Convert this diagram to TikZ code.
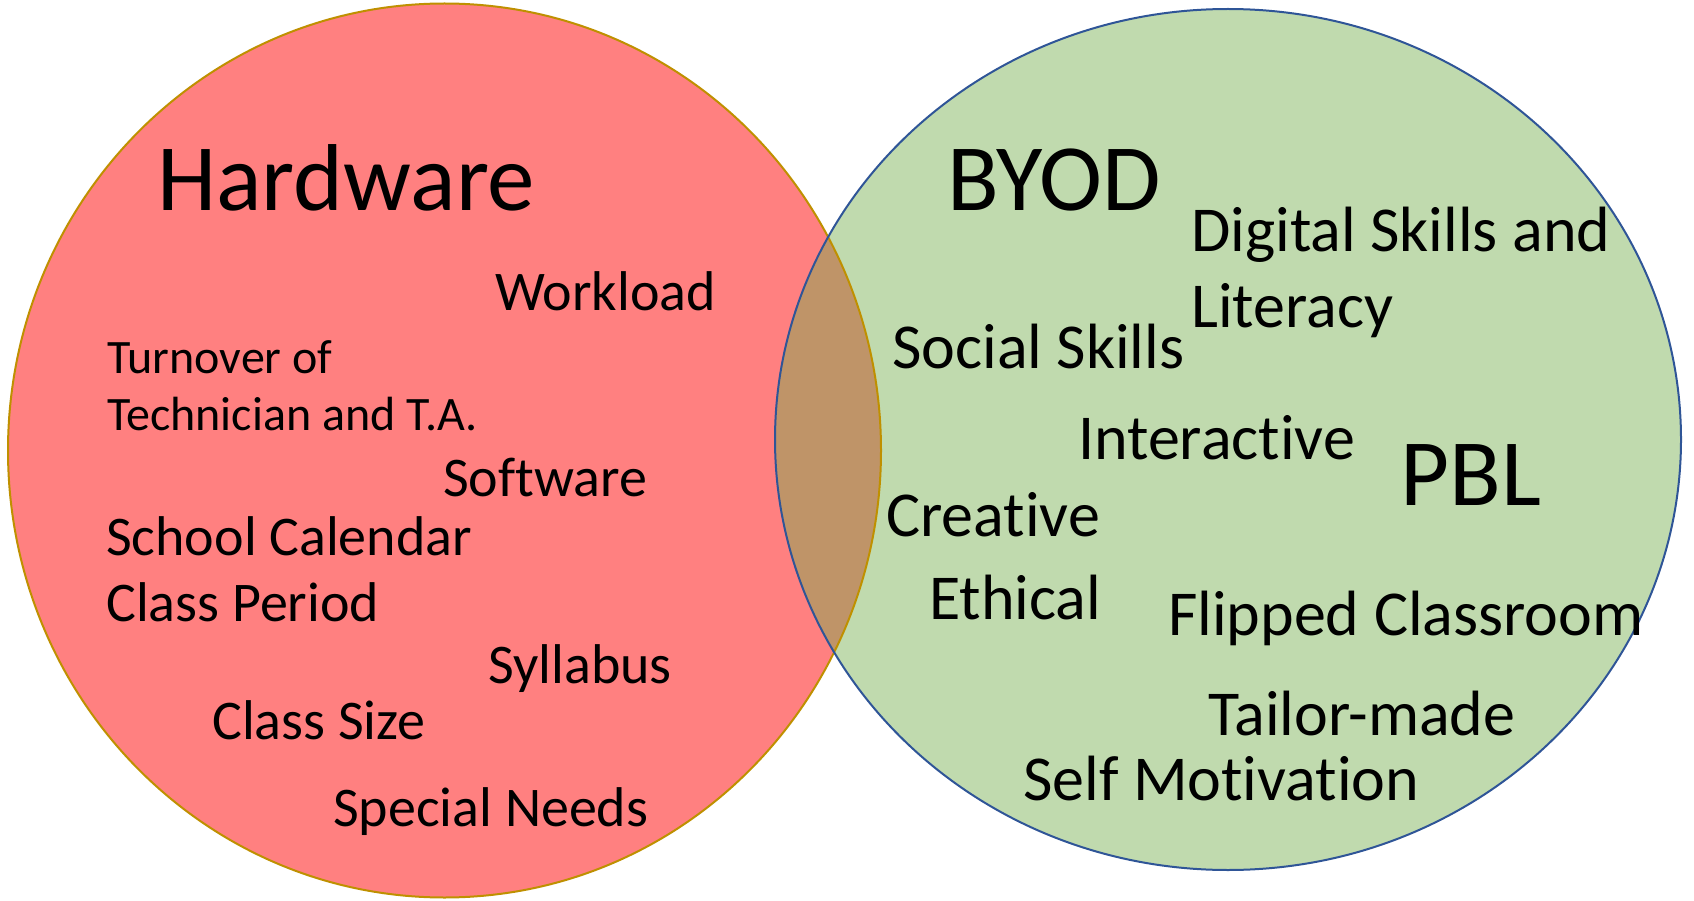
\documentclass[tikz,border=0pt]{standalone}
\usepackage{fontspec}
\setmainfont[Ligatures={NoCommon}]{Carlito}
\definecolor{redfill}{RGB}{255,128,128}
\definecolor{greenfill}{RGB}{192,218,174}
\definecolor{lensfill}{RGB}{191,148,104}
\definecolor{goldline}{RGB}{191,144,0}
\definecolor{blueline}{RGB}{47,85,151}
\tikzset{
  big/.style={anchor=base west, inner sep=0pt, font=\fontsize{95}{95}\selectfont},
  lefttxt/.style={anchor=base west, inner sep=0pt, font=\fontsize{56}{56}\selectfont},
  smalltxt/.style={anchor=base west, inner sep=0pt, font=\fontsize{48}{48}\selectfont},
  righttxt/.style={anchor=base west, inner sep=0pt, font=\fontsize{64}{64}\selectfont},
}
\begin{document}
\begin{tikzpicture}[x=1pt,y=-1pt]
\useasboundingbox (0,0) rectangle (1694,901);
\fill[redfill] (444.5,450.5) ellipse [x radius=436.5, y radius=447];
\fill[greenfill] (1228,439.5) ellipse [x radius=453, y radius=430.5];
\begin{scope}
  \clip (444.5,450.5) ellipse [x radius=436.5, y radius=447];
  \fill[lensfill] (1228,439.5) ellipse [x radius=453, y radius=430.5];
\end{scope}
\draw[goldline, line width=2pt] (444.5,450.5) ellipse [x radius=436.5, y radius=447];
\draw[blueline, line width=2pt] (1228,439.5) ellipse [x radius=453, y radius=430.5];

\node[big] (hw) at (157,211) {Hardware};
\node[lefttxt] (wl) at (495,310) {Workload};
\node[smalltxt] (to) at (107,373) {Turnover of};
\node[smalltxt] (tt) at (107,430) {Technician and T.A.};
\node[lefttxt] (sw) at (443,496) {Software};
\node[lefttxt] (sc) at (106,555) {School Calendar};
\node[lefttxt] (cp) at (106,621) {Class Period};
\node[lefttxt] (sy) at (488,683) {Syllabus};
\node[lefttxt] (cs) at (212,739) {Class Size};
\node[lefttxt] (sn) at (333,826) {Special Needs};

\node[big] (byod) at (947,211) {BYOD};
\node[righttxt] (ds) at (1191,252) {Digital Skills and};
\node[righttxt] (li) at (1191,327) {Literacy};
\node[righttxt] (ss) at (892,368) {Social Skills};
\node[righttxt] (ia) at (1078,459) {Interactive};
\node[big] (pbl) at (1400,505) {PBL};
\node[righttxt] (cr) at (886,536) {Creative};
\node[righttxt] (et) at (929,619) {Ethical};
\node[righttxt] (fc) at (1168,635) {Flipped Classroom};
\node[righttxt] (tm) at (1208,735) {Tailor-made};
\node[righttxt] (sm) at (1023,800) {Self Motivation};
\end{tikzpicture}
\end{document}
